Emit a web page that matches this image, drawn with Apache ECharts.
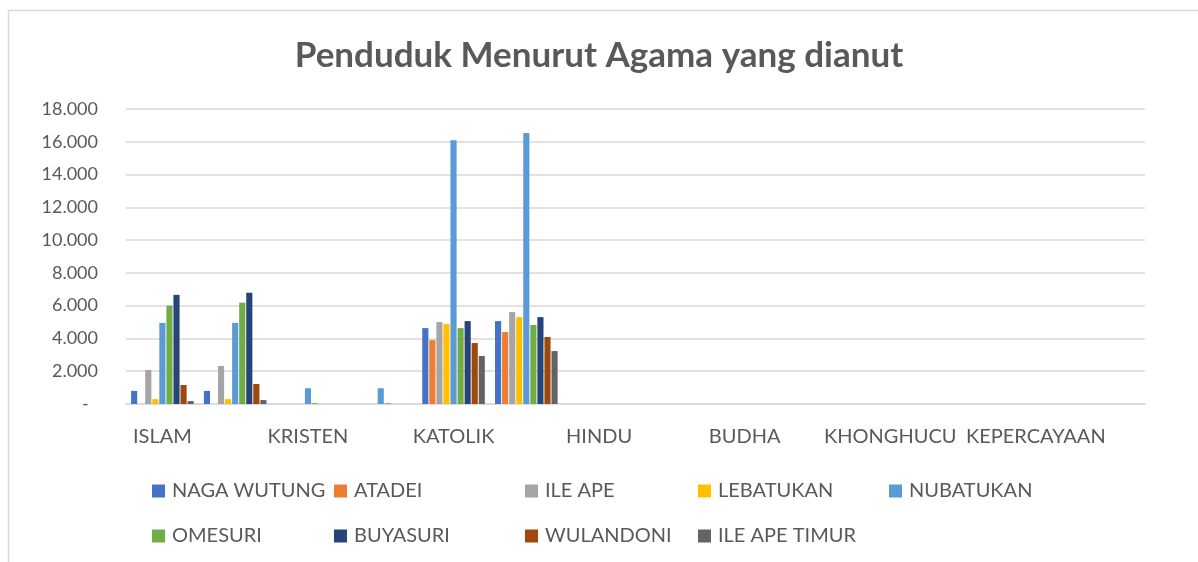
<!DOCTYPE html>
<html>
<head>
<meta charset="utf-8">
<script src="https://cdn.jsdelivr.net/npm/echarts@6/dist/echarts.min.js"></script>
<style>
  html, body { margin: 0; padding: 0; background: #fff; }
  #mainChart { width: 1198px; height: 562px; }
</style>
</head>
<body>
<div id="mainChart"></div>
<script>
// agama (dua kolom per agama, hanya yang pertama diberi label)
var agama = ["ISLAM", "KRISTEN", "KATOLIK", "HINDU", "BUDHA", "KHONGHUCU", "KEPERCAYAAN"];
var kecamatan = ["NAGA WUTUNG", "ATADEI", "ILE APE", "LEBATUKAN", "NUBATUKAN",
                 "OMESURI", "BUYASURI", "WULANDONI", "ILE APE TIMUR"];
var warna = ["#4472C4", "#ED7D31", "#A5A5A5", "#FFC000", "#5B9BD5",
             "#70AD47", "#264478", "#9E480E", "#636363"];

// nilai per kecamatan, 14 kolom (ISLAM x2, KRISTEN x2, KATOLIK x2, ...)
var nagaWutung  = [800, 800, 0, 0, 4630, 5060, 0, 0, 0, 0, 0, 0, 0, 0];
var atadei      = [0, 0, 0, 0, 3900, 4390, 0, 0, 0, 0, 0, 0, 0, 0];
var ileApe      = [2080, 2320, 0, 0, 5000, 5610, 0, 0, 0, 0, 0, 0, 0, 0];
var lebatukan   = [300, 300, 0, 0, 4880, 5300, 0, 0, 0, 0, 0, 0, 0, 0];
var nubatukan   = [4950, 4950, 960, 960, 16100, 16530, 0, 0, 0, 0, 0, 0, 0, 0];
var omesuri     = [6000, 6180, 50, 50, 4630, 4820, 0, 0, 0, 0, 0, 0, 0, 0];
var buyasuri    = [6660, 6790, 0, 0, 5060, 5300, 0, 0, 0, 0, 0, 0, 0, 0];
var wulandoni   = [1160, 1220, 0, 0, 3720, 4090, 0, 0, 0, 0, 0, 0, 0, 0];
var ileApeTimur = [180, 240, 0, 0, 2930, 3230, 0, 0, 0, 0, 0, 0, 0, 0];

var nilai = [nagaWutung, atadei, ileApe, lebatukan, nubatukan,
             omesuri, buyasuri, wulandoni, ileApeTimur];

var kategori = [];
for (var i = 0; i < agama.length; i++) {
    kategori.push(agama[i]);
    kategori.push(agama[i]);
}

var fontUtama = "Lato, 'Noto Sans', sans-serif";
var abu = "#595959";

var legendX = [152, 334, 525, 698, 889];
var legends = [];
var series = [];
for (var k = 0; k < kecamatan.length; k++) {
    legends.push({
        data: [kecamatan[k]],
        left: legendX[k % 5],
        top: k < 5 ? 481 : 526,
        padding: 0,
        itemWidth: 13,
        itemHeight: 13,
        itemGap: 0,
        icon: "rect",
        textStyle: { color: abu, fontSize: 20, fontFamily: fontUtama, padding: [0, 0, 0, 2] }
    });
    series.push({
        name: kecamatan[k],
        type: "bar",
        data: nilai[k],
        barGap: "15%",
        barCategoryGap: "14%",
        itemStyle: { color: warna[k] }
    });
}

var myChart = echarts.init(document.getElementById("mainChart"));
var option = {
    animation: false,
    color: warna,
    title: {
        text: "Penduduk Menurut Agama yang dianut",
        left: "center",
        top: 33,
        textStyle: { color: abu, fontSize: 35, fontWeight: "bold", fontFamily: fontUtama }
    },
    graphic: [{
        type: "rect",
        shape: { x: 8.5, y: 10.5, width: 1200, height: 560 },
        style: { fill: "none", stroke: "#d9d9d9", lineWidth: 1.5 },
        silent: true
    }],
    legend: legends,
    grid: { left: 126, right: 53, top: 109, bottom: 158 },
    xAxis: {
        type: "category",
        data: kategori,
        axisTick: { show: false },
        axisLine: { lineStyle: { color: "#d9d9d9", width: 1.5 } },
        axisLabel: {
            interval: 1,
            color: abu,
            fontSize: 20,
            fontFamily: fontUtama,
            margin: 23
        }
    },
    yAxis: {
        type: "value",
        min: 0,
        max: 18000,
        interval: 2000,
        axisLine: { show: false },
        axisTick: { show: false },
        splitLine: { lineStyle: { color: "#d9d9d9", width: 1.5 } },
        axisLabel: {
            color: abu,
            fontSize: 18,
            fontFamily: fontUtama,
            margin: 28,
            formatter: function (v) {
                if (v === 0) return "-  ";
                return (v / 1000) + ".000";
            }
        }
    },
    series: series
};
myChart.setOption(option);
</script>
</body>
</html>
